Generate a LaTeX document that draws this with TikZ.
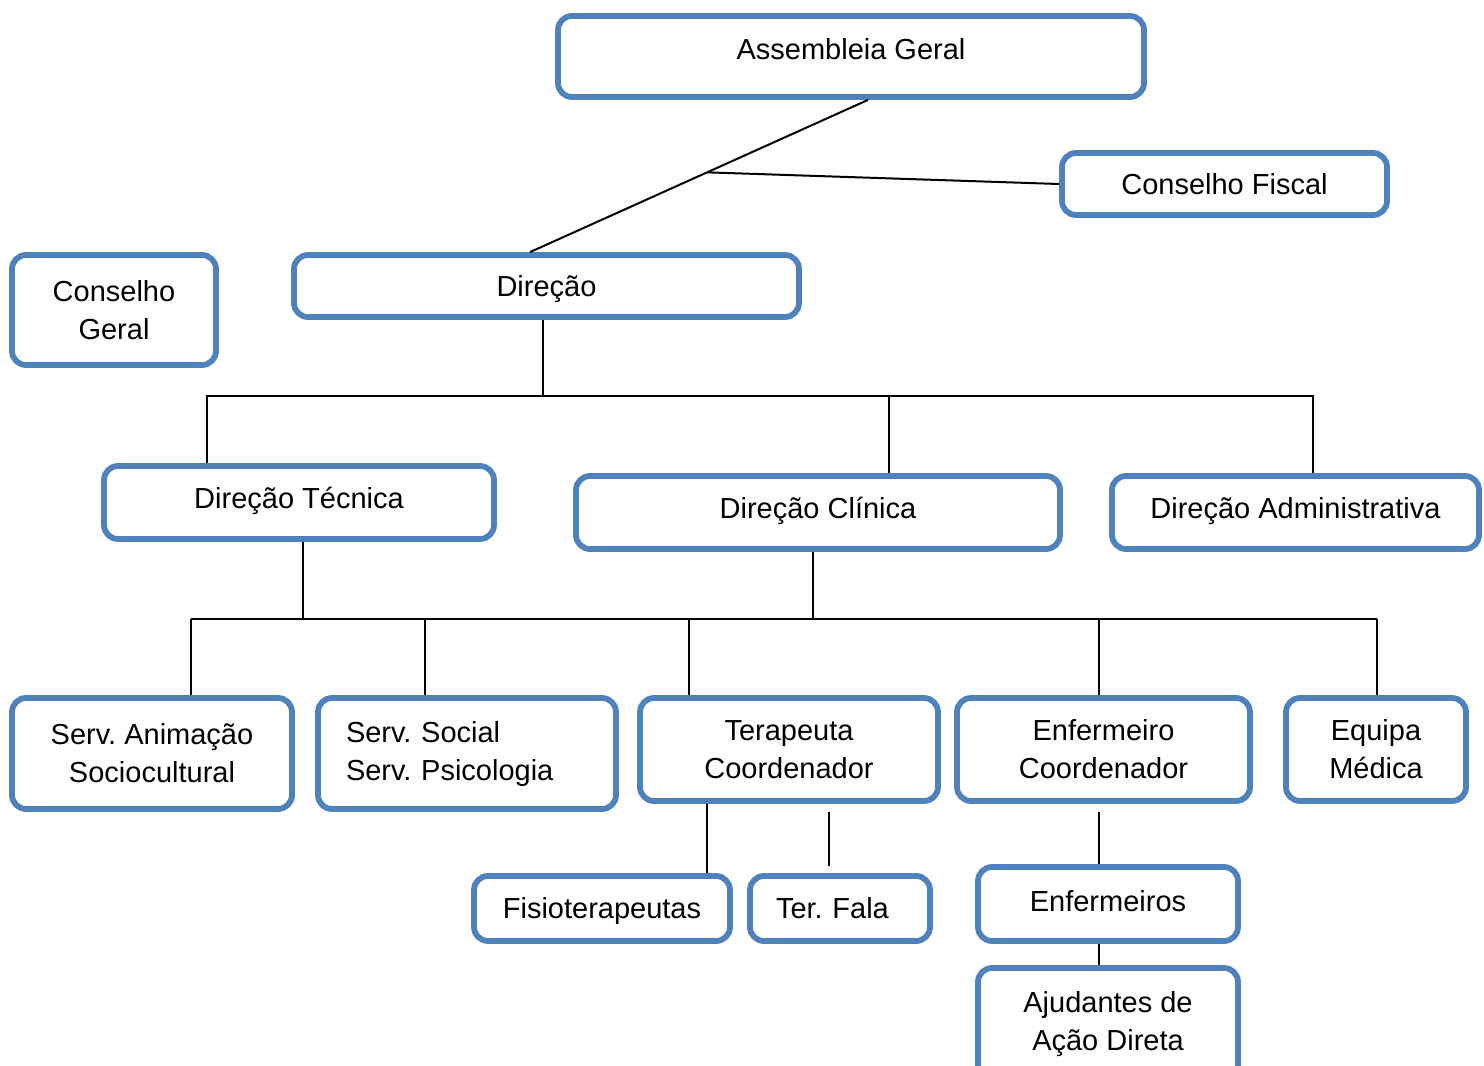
\documentclass[tikz,border=0pt]{standalone}
\usepackage{fontspec}
\setmainfont{Liberation Sans}
\usepackage{xcolor}
\usetikzlibrary{calc}
\definecolor{azul}{HTML}{4F81BD}
\frenchspacing

\begin{document}
\begin{tikzpicture}[x=0.5pt,y=-0.5pt,
  caixa/.style={draw=azul, line width=2.9pt, rounded corners=7pt, fill=white,
    inner sep=0pt, align=center, font=\fontsize{14.5}{19}\selectfont},
  uma/.style={caixa, text height=10.4pt, text depth=0pt},
  tam/.style 2 args={minimum width=#1*0.5pt, minimum height=#2*0.5pt},
  ligacao/.style={draw=black, line width=1pt}]
\useasboundingbox (0,0) rectangle (1484,1066);

% Topo
\node[uma, tam={586}{81}, text depth=7.5pt] (ag) at (851,56.5) {Assembleia Geral};
\node[uma, tam={325}{62}] (cf) at (1224.5,184) {Conselho Fiscal};
\node[caixa, tam={204}{110}] (cg) at (114,310) {Conselho\\Geral};
\node[uma, tam={505}{62}] (dir) at (546.5,286) {Direção};

% Direções
\node[uma, tam={390}{73}, text depth=4pt] (dt) at (299,502.5) {Direção Técnica};
\node[uma, tam={484}{73}, text depth=4pt] (dc) at (818,512.5) {Direção Clínica};
\node[uma, tam={367}{73}, text depth=4pt] (da) at (1295.5,512.5) {Direção Administrativa};

% Serviços
\node[caixa, tam={280}{111}] (sa) at (152,753.5) {Serv. Animação\\Sociocultural};
\node[caixa, tam={298}{111}, text width=121pt, align=left] (ss) at (467,753.5) {Serv. Social\\Serv. Psicologia};
\node[caixa, tam={298}{103}] (tc) at (789,749.5) {Terapeuta\\Coordenador};
\node[caixa, tam={293}{103}] (ec) at (1103.5,749.5) {Enfermeiro\\Coordenador};
\node[caixa, tam={180}{103}] (em) at (1376,749.5) {Equipa\\Médica};

% Último nível
\node[uma, tam={256}{65}] (fis) at (602,908.5) {Fisioterapeutas};
\node[uma, tam={180}{65}, text width=64pt, align=left] (tf) at (840,908.5) {Ter. Fala};
\node[uma, tam={260}{74}, text depth=3pt] (enf) at (1108,904) {Enfermeiros};
\node[caixa, tam={260}{112}] (aj) at (1108,1024) {Ajudantes de\\Ação Direta};

% Ligações do topo
\draw[ligacao] ($(ag.south)+(17,0)$) -- coordinate[pos=0.476] (j1) ($(dir.north)+(-16.5,0)$);
\draw[ligacao] (j1) -- (cf.west);

% Direção -> direções
\coordinate (b1) at (543,396);
\coordinate (b1t) at (207,396);
\coordinate (b1c) at (889,396);
\coordinate (b1a) at (1313,396);
\draw[ligacao] (dir.south -| b1) -- (b1);
\draw[ligacao] (dt.north -| b1t) -- (b1t) -- (b1a) -- (da.north -| b1a);
\draw[ligacao] (b1c) -- (dc.north -| b1c);

% Direções -> serviços
\coordinate (b2w) at (191,618.5);
\coordinate (b2e) at (1377,618.5);
\coordinate (b2t) at (303,618.5);
\coordinate (b2c) at (813,618.5);
\draw[ligacao] (b2w) -- (b2e);
\draw[ligacao] (dt.south -| b2t) -- (b2t);
\draw[ligacao] (dc.south -| b2c) -- (b2c);
\foreach \x/\n in {191/sa,425/ss,689/tc,1099/ec,1377/em}{
  \coordinate (p\n) at (\x,618.5);
  \draw[ligacao] (p\n) -- (\n.north -| p\n);
}

% Serviços -> equipas
\coordinate (xf) at (707,800);
\draw[ligacao] (tc.south -| xf) -- (fis.north -| xf);
\coordinate (tf1) at (829,812);
\coordinate (tf2) at (829,866);
\draw[ligacao] (tf1) -- (tf2);
\coordinate (ec1) at (1099,812);
\draw[ligacao] (ec1) -- (enf.north -| ec1);
\draw[ligacao] (enf.south -| ec1) -- (aj.north -| ec1);

\end{tikzpicture}
\end{document}
